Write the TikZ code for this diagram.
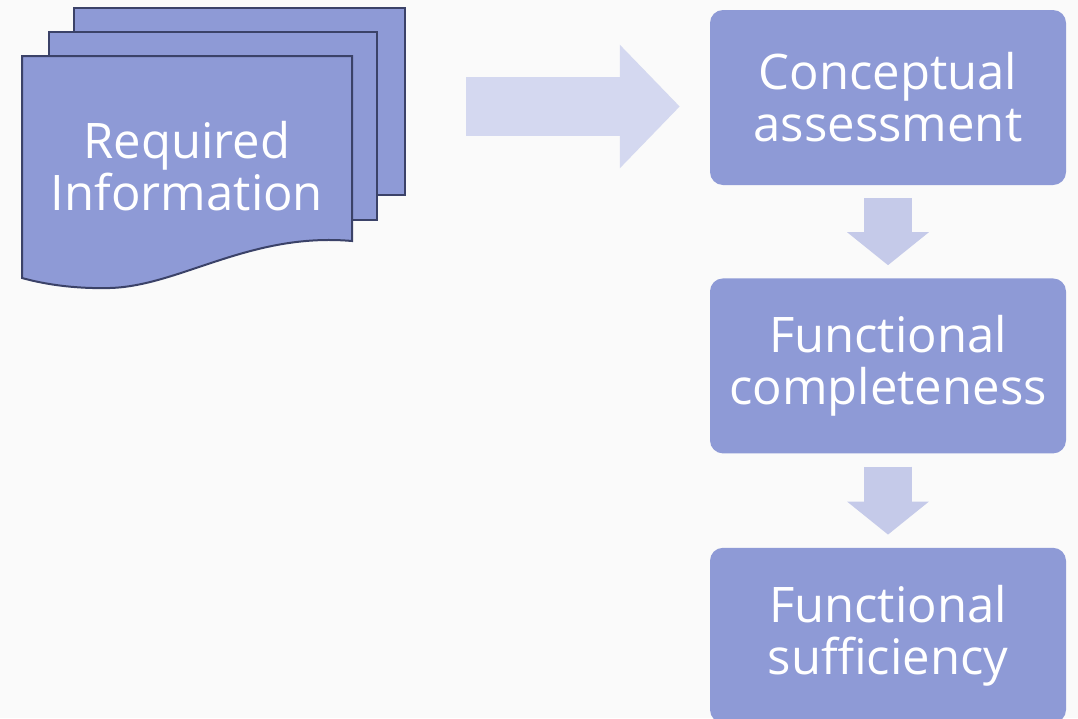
\documentclass[tikz,border=0pt]{standalone}
\usepackage{fontspec}
\setmainfont{Open Sans}
\usetikzlibrary{arrows.meta,positioning}

\definecolor{stepfill}{HTML}{8E9AD6}
\definecolor{flowfill}{HTML}{D4D8F0}
\definecolor{downfill}{HTML}{C5CAE9}
\definecolor{pageline}{HTML}{3B4268}
\definecolor{bgcol}{HTML}{FAFAFA}

\begin{document}
\begin{tikzpicture}[
    x=1pt, y=-1pt,
    font=\fontsize{49}{52}\selectfont,
    stepbox/.style={rectangle, rounded corners=13pt, fill=stepfill, text=white,
        align=center, minimum width=356pt, minimum height=175pt, inner sep=0pt},
    page/.style={fill=stepfill, draw=pageline, line width=2pt, line join=miter},
    flow/.style={draw=flowfill, line width=59pt, -{Triangle[length=60pt,width=120pt]}},
    down/.style={draw=downfill, line width=48pt, -{Triangle[length=33pt,width=80pt]},
        shorten <=13pt, shorten >=13pt}
]
% background and page size
\fill[bgcol] (0,0) rectangle (1078,718);
\useasboundingbox (0,0) rectangle (1078,718);

% stack of pages
\draw[page] (74,8) rectangle (405,195);
\draw[page] (49,32) rectangle (377,220);
\draw[page] (22,56) -- (352,56) -- (352,241)
    .. controls (250,232) and (180,286) .. (110,288)
    .. controls (70,289) and (40,283) .. (22,278) -- cycle;
\node[text=white, align=center] (docs) at (187,166) {Required\\Information};

% steps on the right
\node[stepbox] (concept) at (888,97.5) {Conceptual\\assessment};
\node[stepbox, below=93pt of concept] (complete) {Functional\\completeness};
\node[stepbox, below=94pt of complete] (suffic) {Functional\\sufficiency};

% arrows
\coordinate (doctail) at (466,106.5);
\draw[flow, shorten >=30pt] (doctail) -- (concept.west |- doctail);
\draw[down] (concept) -- (complete);
\draw[down] (complete) -- (suffic);
\end{tikzpicture}
\end{document}
